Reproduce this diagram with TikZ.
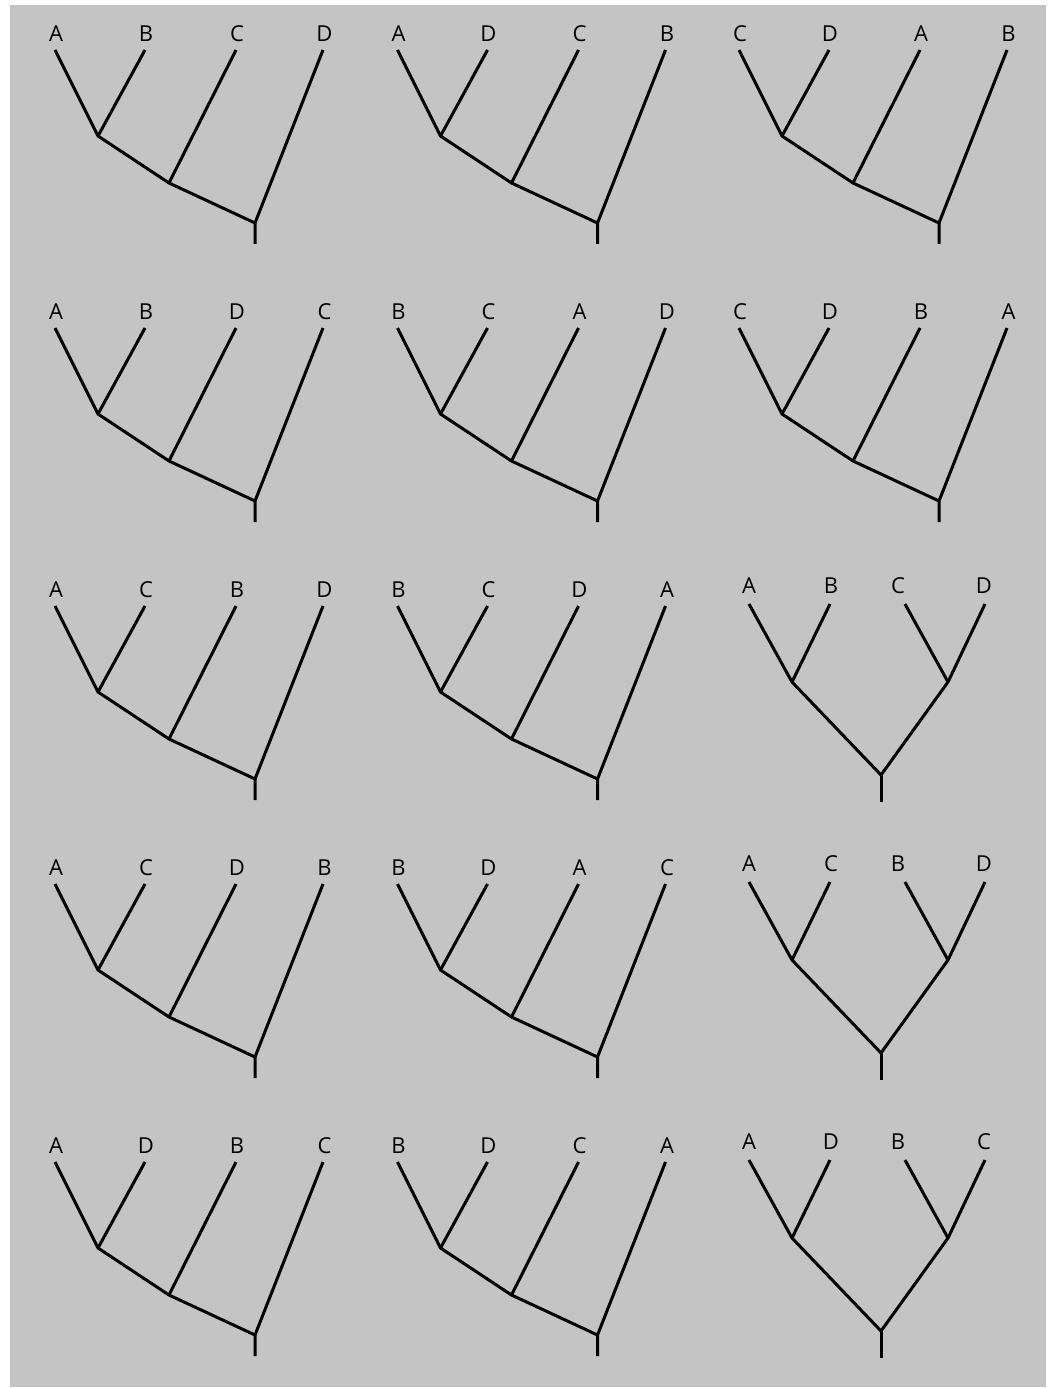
\documentclass[tikz,border=0pt]{standalone}
\usepackage{fontspec}
\setmainfont{Open Sans}
\definecolor{bggray}{RGB}{196,196,196}
\tikzset{
  branch/.style={line width=3pt, line join=round, black},
  lab/.style={anchor=base, inner sep=0pt, font=\fontsize{22}{22}\selectfont, text=black},
}
% asymmetric (pectinate) tree: #1 prefix, #2..#5 leaf labels
\newcommand{\asymtree}[5]{%
  \coordinate (#1t1) at (55,50);
  \coordinate (#1t2) at (145,50);
  \coordinate (#1t3) at (236,50);
  \coordinate (#1t4) at (323,50);
  \coordinate (#1n1) at (98,136);
  \coordinate (#1n2) at (169,183);
  \coordinate (#1r) at (255,223);
  \coordinate (#1s) at (255,244);
  \node[lab] (#1l1) at (56,41.5) {#2};
  \node[lab] (#1l2) at (146,41.5) {#3};
  \node[lab] (#1l3) at (237,41.5) {#4};
  \node[lab] (#1l4) at (324.5,41.5) {#5};
  \draw[branch] (#1t1) -- (#1n1) -- (#1n2) -- (#1r) -- (#1s);
  \draw[branch] (#1t2) -- (#1n1);
  \draw[branch] (#1t3) -- (#1n2);
  \draw[branch] (#1t4) -- (#1r);
}
% symmetric (balanced) tree: #1 prefix, #2..#5 leaf labels
\newcommand{\symtree}[5]{%
  \coordinate (#1t1) at (749,48);
  \coordinate (#1t2) at (830,48);
  \coordinate (#1t3) at (905,48);
  \coordinate (#1t4) at (985,48);
  \coordinate (#1n1) at (792,126);
  \coordinate (#1n2) at (948,126);
  \coordinate (#1r) at (881,219);
  \coordinate (#1s) at (881,246);
  \node[lab] (#1l1) at (749,37) {#2};
  \node[lab] (#1l2) at (831,37) {#3};
  \node[lab] (#1l3) at (898,37) {#4};
  \node[lab] (#1l4) at (984,37) {#5};
  \draw[branch] (#1t1) -- (#1n1) -- (#1r) -- (#1n2) -- (#1t4);
  \draw[branch] (#1t2) -- (#1n1);
  \draw[branch] (#1t3) -- (#1n2);
  \draw[branch] (#1r) -- (#1s);
}
\begin{document}
\begin{tikzpicture}[x=1pt,y=-1pt]
  \useasboundingbox (0,0) rectangle (1055,1388);
  \fill[white] (0,0) rectangle (1055,1388);
  \fill[bggray] (10,5) rectangle (1046,1387);
  % row 1
  \begin{scope}[shift={(0,0)}]\asymtree{aa}{A}{B}{C}{D}\end{scope}
  \begin{scope}[shift={(342.5,0)}]\asymtree{ab}{A}{D}{C}{B}\end{scope}
  \begin{scope}[shift={(684,0)}]\asymtree{ac}{C}{D}{A}{B}\end{scope}
  % row 2
  \begin{scope}[shift={(0,278)}]\asymtree{ba}{A}{B}{D}{C}\end{scope}
  \begin{scope}[shift={(342.5,278)}]\asymtree{bb}{B}{C}{A}{D}\end{scope}
  \begin{scope}[shift={(684,278)}]\asymtree{bc}{C}{D}{B}{A}\end{scope}
  % row 3
  \begin{scope}[shift={(0,556)}]\asymtree{ca}{A}{C}{B}{D}\end{scope}
  \begin{scope}[shift={(342.5,556)}]\asymtree{cb}{B}{C}{D}{A}\end{scope}
  \begin{scope}[shift={(0,556)}]\symtree{cc}{A}{B}{C}{D}\end{scope}
  % row 4
  \begin{scope}[shift={(0,834)}]\asymtree{da}{A}{C}{D}{B}\end{scope}
  \begin{scope}[shift={(342.5,834)}]\asymtree{db}{B}{D}{A}{C}\end{scope}
  \begin{scope}[shift={(0,834)}]\symtree{dc}{A}{C}{B}{D}\end{scope}
  % row 5
  \begin{scope}[shift={(0,1112)}]\asymtree{ea}{A}{D}{B}{C}\end{scope}
  \begin{scope}[shift={(342.5,1112)}]\asymtree{eb}{B}{D}{C}{A}\end{scope}
  \begin{scope}[shift={(0,1112)}]\symtree{ec}{A}{D}{B}{C}\end{scope}
\end{tikzpicture}
\end{document}
